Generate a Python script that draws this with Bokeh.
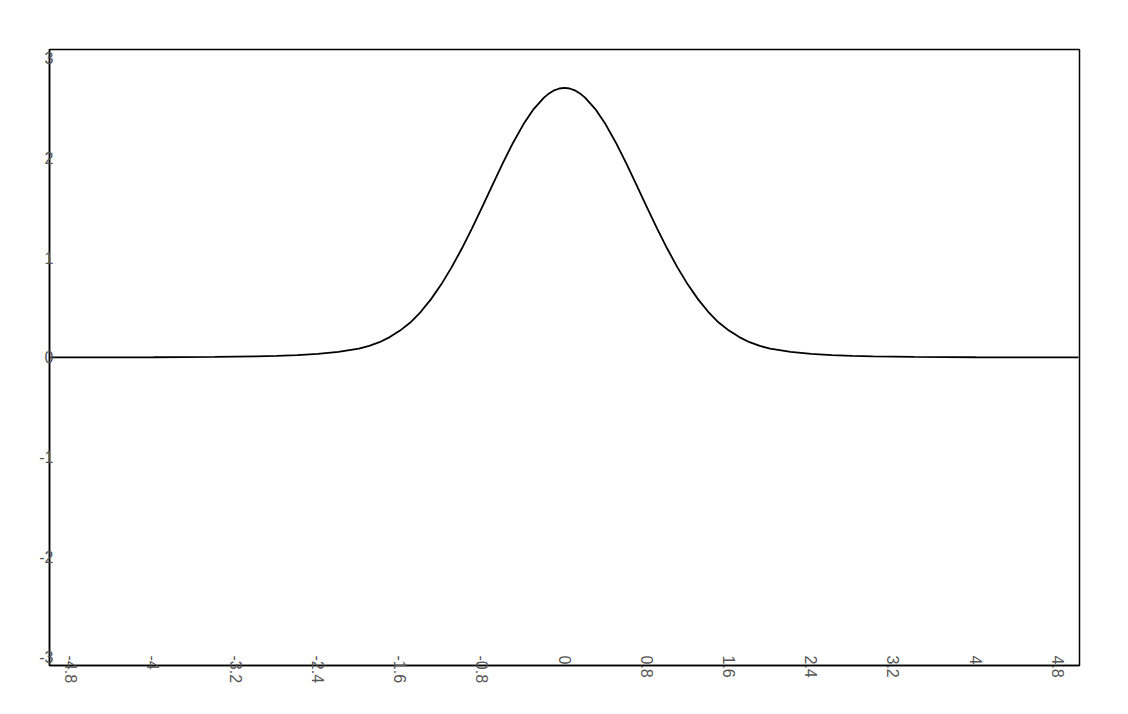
from bokeh.plotting import figure
from bokeh.models import Range1d, FixedTicker
from bokeh.embed import file_html
from bokeh.resources import INLINE

# Curve values (right half, symmetric about x = 0)
x_half = [0.0, 0.05, 0.1, 0.15, 0.2, 0.3, 0.4, 0.5, 0.6, 0.7, 0.8, 0.9, 1.0, 1.1, 1.2, 1.3,
          1.4, 1.5, 1.6, 1.7, 1.8, 1.9, 2.0, 2.2, 2.4, 2.6, 2.8, 3.0, 3.4, 4.0, 5.0]
y_half = [2.70, 2.694, 2.676, 2.645, 2.603, 2.488, 2.335, 2.151, 1.947, 1.729, 1.509, 1.293,
          1.088, 0.899, 0.729, 0.581, 0.454, 0.349, 0.268, 0.203, 0.152, 0.115,
          0.088, 0.055, 0.035, 0.022, 0.014, 0.009, 0.004, 0.001, 0.0]

x_vals = [-v for v in reversed(x_half[1:])] + x_half
y_vals = list(reversed(y_half[1:])) + y_half

x_ticks = [-4.8, -4, -3.2, -2.4, -1.6, -0.8, 0, 0.8, 1.6, 2.4, 3.2, 4, 4.8]
x_labels = ["-4.8", "-4", "-3.2", "-2.4", "-1.6", "-0.8", "0", "0.8", "1.6", "2.4", "3.2", "4", "4.8"]
y_ticks = [-3, -2, -1, 0, 1, 2, 3]
y_labels = ["-3", "-2", "-1", "0", "1", "2", "3"]

p = figure(frame_width=1030, frame_height=616,
           min_border_left=49, min_border_right=49, min_border_top=49, min_border_bottom=49,
           x_range=Range1d(-5.01, 5.01), y_range=Range1d(-3.088, 3.085),
           output_backend="svg", toolbar_location=None)

p.line(x_vals, y_vals, line_color="black", line_width=1.8)

p.xgrid.visible = False
p.ygrid.visible = False
p.outline_line_color = "black"
p.outline_line_width = 1.5
p.outline_line_alpha = 1.0
p.background_fill_color = "white"
p.border_fill_color = "white"

for ax in (p.xaxis[0], p.yaxis[0]):
    ax.axis_line_color = "black"
    ax.axis_line_width = 1.5
    ax.major_tick_line_color = None
    ax.minor_tick_line_color = None
    ax.major_tick_out = 0
    ax.major_tick_in = 0
    ax.major_label_text_font = "Liberation Sans"
    ax.major_label_text_font_size = "16px"
    ax.major_label_text_color = "#555555"

p.xaxis[0].ticker = FixedTicker(ticks=x_ticks)
p.xaxis[0].major_label_overrides = {t: l for t, l in zip(x_ticks, x_labels)}
p.xaxis[0].major_label_orientation = "vertical"
p.xaxis[0].major_label_standoff = -10

p.yaxis[0].ticker = FixedTicker(ticks=y_ticks)
p.yaxis[0].major_label_overrides = {t: l for t, l in zip(y_ticks, y_labels)}
p.yaxis[0].major_label_standoff = -4

open("out.html", "w").write(file_html(p, INLINE))
